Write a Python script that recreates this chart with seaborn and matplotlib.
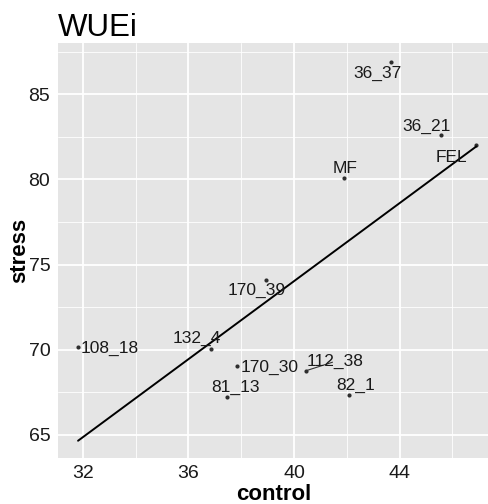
import matplotlib
matplotlib.use("Agg")
import matplotlib.pyplot as plt
import seaborn as sns
import pandas as pd

# Data
labels = ["36_37", "36_21", "FEL", "MF", "170_39", "132_4", "108_18",
          "170_30", "81_13", "112_38", "82_1"]
control = [43.68, 45.58, 46.91, 41.90, 38.94, 36.86, 31.82,
           37.86, 37.47, 40.46, 42.09]
stress = [86.90, 82.60, 82.00, 80.10, 74.12, 70.06, 70.18,
          69.06, 67.20, 68.76, 67.35]
# label positions (repelled text positions, data units)
label_x = [43.15, 45.04, 45.95, 41.94, 38.60, 36.33, 33.03,
           39.06, 37.77, 41.56, 42.35]
label_y = [86.25, 83.14, 81.31, 80.66, 73.49, 70.66, 70.08,
           68.96, 67.78, 69.31, 67.90]
x_ticks = [32, 36, 40, 44]
y_ticks = [65, 70, 75, 80, 85]

df = pd.DataFrame({"label": labels, "control": control, "stress": stress,
                   "lx": label_x, "ly": label_y})

sns.set_theme(style="darkgrid")
plt.rcParams["font.family"] = ["Liberation Sans", "DejaVu Sans"]

fig = plt.figure(figsize=(4.89, 5.04), dpi=100)
ax = fig.add_axes([58 / 489, 1 - 457.5 / 504, 1 - 58 / 489, (457.5 - 43) / 504])
ax.set_facecolor("#E5E5E5")

sns.regplot(data=df, x="control", y="stress", ax=ax, ci=None, truncate=True,
            scatter_kws=dict(s=9, color="black", linewidths=0, zorder=3),
            line_kws=dict(color="black", lw=1.4, zorder=2))

for _, r in df.iterrows():
    if r["label"] == "112_38":
        ax.annotate(r["label"], xy=(r["control"], r["stress"]),
                    xytext=(r["lx"], r["ly"]), ha="center", va="center",
                    fontsize=12.5, color="#1a1a1a", zorder=4,
                    arrowprops=dict(arrowstyle="-", color="#333333", lw=0.8,
                                    shrinkA=2, shrinkB=1))
    else:
        ax.text(r["lx"], r["ly"], r["label"], ha="center", va="center",
                fontsize=12.5, color="#1a1a1a", zorder=4)

ax.set_xlim(31.06, 47.39)
ax.set_ylim(63.66, 88.02)
ax.set_xticks(x_ticks)
ax.set_yticks(y_ticks)
ax.set_xticks([34, 38, 42, 46], minor=True)
ax.set_yticks([67.5, 72.5, 77.5, 82.5, 87.5], minor=True)
ax.grid(which="major", color="white", lw=1.3)
ax.grid(which="minor", color="white", lw=0.6)
ax.set_axisbelow(True)
for s in ax.spines.values():
    s.set_visible(False)

ax.tick_params(axis="both", which="major", labelsize=14, colors="#333333",
               length=3.5, width=0.8, pad=2, labelcolor="#1a1a1a")
ax.tick_params(axis="both", which="minor", length=0)

ax.set_xlabel("control", fontsize=16, fontweight="bold", labelpad=1,
              color="black")
ax.set_ylabel("stress", fontsize=16, fontweight="bold", labelpad=-1,
              color="black")
ax.set_title("WUEi", loc="left", fontsize=22.5, pad=5, color="black")

fig.savefig("out.png", dpi=100)
